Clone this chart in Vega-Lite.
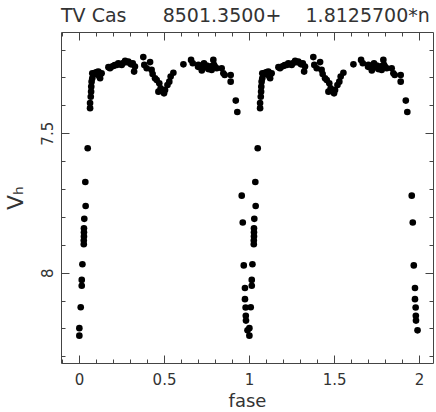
{
  "$schema": "https://vega.github.io/schema/vega-lite/v6.json",
  "width": 372,
  "height": 331,
  "autosize": {"type": "none"},
  "padding": {"left": 61, "top": 32, "right": 3, "bottom": 49},
  "background": "white",
  "config": {
    "view": {"stroke": null},
    "font": "DejaVu Sans",
    "axis": {
      "grid": false,
      "domainColor": "#444",
      "domainWidth": 1,
      "tickColor": "#444",
      "tickWidth": 1,
      "labelFont": "DejaVu Sans",
      "labelFontSize": 15,
      "labelColor": "#333",
      "titleFont": "DejaVu Sans",
      "titleFontWeight": "normal",
      "titleColor": "#333",
      "labelOverlap": false,
      "labelFlush": false
    }
  },
  "title": {
    "text": "TV Cas\u00a0\u00a0\u00a0\u00a0\u00a0\u00a08501.3500+\u00a0\u00a0\u00a0\u00a01.8125700*n",
    "anchor": "start",
    "font": "DejaVu Sans",
    "fontSize": 19,
    "fontWeight": "normal",
    "color": "#333",
    "baseline": "alphabetic",
    "offset": -9,
    "frame": "group"
  },
  "data": {
    "values": [
      {"fase": 0.002, "v": 8.199}, {"fase": 0.002, "v": 8.226}, {"fase": 0.010, "v": 8.124}, {"fase": 0.016, "v": 8.026},
      {"fase": 0.016, "v": 8.047}, {"fase": 0.020, "v": 7.970}, {"fase": 0.028, "v": 7.898}, {"fase": 0.028, "v": 7.885},
      {"fase": 0.029, "v": 7.870}, {"fase": 0.029, "v": 7.855}, {"fase": 0.029, "v": 7.841}, {"fase": 0.031, "v": 7.807},
      {"fase": 0.037, "v": 7.675}, {"fase": 0.039, "v": 7.761}, {"fase": 0.051, "v": 7.554}, {"fase": 0.065, "v": 7.392},
      {"fase": 0.065, "v": 7.410}, {"fase": 0.069, "v": 7.369}, {"fase": 0.071, "v": 7.351}, {"fase": 0.072, "v": 7.333},
      {"fase": 0.074, "v": 7.315}, {"fase": 0.078, "v": 7.303}, {"fase": 0.078, "v": 7.285}, {"fase": 0.085, "v": 7.290},
      {"fase": 0.094, "v": 7.283}, {"fase": 0.105, "v": 7.281}, {"fase": 0.114, "v": 7.279}, {"fase": 0.118, "v": 7.295},
      {"fase": 0.124, "v": 7.291}, {"fase": 0.124, "v": 7.303}, {"fase": 0.133, "v": 7.285}, {"fase": 0.173, "v": 7.263},
      {"fase": 0.182, "v": 7.267}, {"fase": 0.190, "v": 7.262}, {"fase": 0.202, "v": 7.259}, {"fase": 0.210, "v": 7.256},
      {"fase": 0.222, "v": 7.255}, {"fase": 0.231, "v": 7.249}, {"fase": 0.240, "v": 7.252}, {"fase": 0.251, "v": 7.255},
      {"fase": 0.260, "v": 7.248}, {"fase": 0.271, "v": 7.240}, {"fase": 0.280, "v": 7.245}, {"fase": 0.290, "v": 7.243},
      {"fase": 0.300, "v": 7.249}, {"fase": 0.306, "v": 7.253}, {"fase": 0.316, "v": 7.249}, {"fase": 0.324, "v": 7.279},
      {"fase": 0.329, "v": 7.261}, {"fase": 0.378, "v": 7.227}, {"fase": 0.384, "v": 7.255}, {"fase": 0.398, "v": 7.267},
      {"fase": 0.418, "v": 7.245}, {"fase": 0.427, "v": 7.273}, {"fase": 0.433, "v": 7.288}, {"fase": 0.447, "v": 7.303},
      {"fase": 0.457, "v": 7.309}, {"fase": 0.467, "v": 7.351}, {"fase": 0.472, "v": 7.321}, {"fase": 0.480, "v": 7.339},
      {"fase": 0.500, "v": 7.357}, {"fase": 0.506, "v": 7.345}, {"fase": 0.520, "v": 7.327}, {"fase": 0.531, "v": 7.315},
      {"fase": 0.539, "v": 7.297}, {"fase": 0.555, "v": 7.283}, {"fase": 0.614, "v": 7.253}, {"fase": 0.659, "v": 7.237},
      {"fase": 0.669, "v": 7.249}, {"fase": 0.700, "v": 7.262}, {"fase": 0.702, "v": 7.255}, {"fase": 0.722, "v": 7.263},
      {"fase": 0.722, "v": 7.275}, {"fase": 0.735, "v": 7.249}, {"fase": 0.740, "v": 7.262}, {"fase": 0.751, "v": 7.257},
      {"fase": 0.760, "v": 7.270}, {"fase": 0.767, "v": 7.267}, {"fase": 0.775, "v": 7.260}, {"fase": 0.780, "v": 7.273},
      {"fase": 0.790, "v": 7.237}, {"fase": 0.794, "v": 7.255}, {"fase": 0.800, "v": 7.262}, {"fase": 0.810, "v": 7.267},
      {"fase": 0.839, "v": 7.267}, {"fase": 0.849, "v": 7.285}, {"fase": 0.857, "v": 7.291}, {"fase": 0.892, "v": 7.291},
      {"fase": 0.892, "v": 7.315}, {"fase": 0.922, "v": 7.383}, {"fase": 0.931, "v": 7.424}, {"fase": 0.957, "v": 7.724},
      {"fase": 0.963, "v": 7.820}, {"fase": 0.969, "v": 7.974}, {"fase": 0.976, "v": 8.055}, {"fase": 0.976, "v": 8.095},
      {"fase": 0.980, "v": 8.125}, {"fase": 0.981, "v": 8.155}, {"fase": 0.982, "v": 8.172}, {"fase": 0.991, "v": 8.207},
      {"fase": 1.002, "v": 8.199}, {"fase": 1.002, "v": 8.226}, {"fase": 1.010, "v": 8.124}, {"fase": 1.016, "v": 8.026},
      {"fase": 1.016, "v": 8.047}, {"fase": 1.020, "v": 7.970}, {"fase": 1.028, "v": 7.898}, {"fase": 1.028, "v": 7.885},
      {"fase": 1.029, "v": 7.870}, {"fase": 1.029, "v": 7.855}, {"fase": 1.029, "v": 7.841}, {"fase": 1.031, "v": 7.807},
      {"fase": 1.037, "v": 7.675}, {"fase": 1.039, "v": 7.761}, {"fase": 1.051, "v": 7.554}, {"fase": 1.065, "v": 7.392},
      {"fase": 1.065, "v": 7.410}, {"fase": 1.069, "v": 7.369}, {"fase": 1.071, "v": 7.351}, {"fase": 1.072, "v": 7.333},
      {"fase": 1.074, "v": 7.315}, {"fase": 1.078, "v": 7.303}, {"fase": 1.078, "v": 7.285}, {"fase": 1.085, "v": 7.290},
      {"fase": 1.094, "v": 7.283}, {"fase": 1.105, "v": 7.281}, {"fase": 1.114, "v": 7.279}, {"fase": 1.118, "v": 7.295},
      {"fase": 1.124, "v": 7.291}, {"fase": 1.124, "v": 7.303}, {"fase": 1.133, "v": 7.285}, {"fase": 1.173, "v": 7.263},
      {"fase": 1.182, "v": 7.267}, {"fase": 1.190, "v": 7.262}, {"fase": 1.202, "v": 7.259}, {"fase": 1.210, "v": 7.256},
      {"fase": 1.222, "v": 7.255}, {"fase": 1.231, "v": 7.249}, {"fase": 1.240, "v": 7.252}, {"fase": 1.251, "v": 7.255},
      {"fase": 1.260, "v": 7.248}, {"fase": 1.271, "v": 7.240}, {"fase": 1.280, "v": 7.245}, {"fase": 1.290, "v": 7.243},
      {"fase": 1.300, "v": 7.249}, {"fase": 1.306, "v": 7.253}, {"fase": 1.316, "v": 7.249}, {"fase": 1.324, "v": 7.279},
      {"fase": 1.329, "v": 7.261}, {"fase": 1.378, "v": 7.227}, {"fase": 1.384, "v": 7.255}, {"fase": 1.398, "v": 7.267},
      {"fase": 1.418, "v": 7.245}, {"fase": 1.427, "v": 7.273}, {"fase": 1.433, "v": 7.288}, {"fase": 1.447, "v": 7.303},
      {"fase": 1.457, "v": 7.309}, {"fase": 1.467, "v": 7.351}, {"fase": 1.472, "v": 7.321}, {"fase": 1.480, "v": 7.339},
      {"fase": 1.500, "v": 7.357}, {"fase": 1.506, "v": 7.345}, {"fase": 1.520, "v": 7.327}, {"fase": 1.531, "v": 7.315},
      {"fase": 1.539, "v": 7.297}, {"fase": 1.555, "v": 7.283}, {"fase": 1.614, "v": 7.253}, {"fase": 1.659, "v": 7.237},
      {"fase": 1.669, "v": 7.249}, {"fase": 1.700, "v": 7.262}, {"fase": 1.702, "v": 7.255}, {"fase": 1.722, "v": 7.263},
      {"fase": 1.722, "v": 7.275}, {"fase": 1.735, "v": 7.249}, {"fase": 1.740, "v": 7.262}, {"fase": 1.751, "v": 7.257},
      {"fase": 1.760, "v": 7.270}, {"fase": 1.767, "v": 7.267}, {"fase": 1.775, "v": 7.260}, {"fase": 1.780, "v": 7.273},
      {"fase": 1.790, "v": 7.237}, {"fase": 1.794, "v": 7.255}, {"fase": 1.800, "v": 7.262}, {"fase": 1.810, "v": 7.267},
      {"fase": 1.839, "v": 7.267}, {"fase": 1.849, "v": 7.285}, {"fase": 1.857, "v": 7.291}, {"fase": 1.892, "v": 7.291},
      {"fase": 1.892, "v": 7.315}, {"fase": 1.922, "v": 7.383}, {"fase": 1.931, "v": 7.424}, {"fase": 1.957, "v": 7.724},
      {"fase": 1.963, "v": 7.820}, {"fase": 1.969, "v": 7.974}, {"fase": 1.976, "v": 8.055}, {"fase": 1.976, "v": 8.095},
      {"fase": 1.980, "v": 8.125}, {"fase": 1.981, "v": 8.155}, {"fase": 1.982, "v": 8.172}, {"fase": 1.991, "v": 8.207}
    ]
  },
  "layer": [
    {
      "mark": {"type": "circle", "size": 44, "color": "black", "opacity": 1},
      "encoding": {
        "x": {
          "field": "fase", "type": "quantitative",
          "scale": {"domain": [-0.106, 2.082], "nice": false, "zero": false},
          "axis": {
            "orient": "bottom",
            "values": [-0.1, 0, 0.1, 0.2, 0.3, 0.4, 0.5, 0.6, 0.7, 0.8, 0.9, 1, 1.1, 1.2, 1.3, 1.4, 1.5, 1.6, 1.7, 1.8, 1.9, 2],
            "tickSize": {"condition": {"test": "abs(datum.value*2 - round(datum.value*2)) < 0.001", "value": -8}, "value": -4},
            "labelExpr": "abs(datum.value*2 - round(datum.value*2)) < 0.001 ? format(datum.value, '~g') : ''",
            "labelBaseline": "alphabetic",
            "labelPadding": 29,
            "title": "fase",
            "titleFontSize": 18,
            "titlePadding": 1
          }
        },
        "y": {
          "field": "v", "type": "quantitative",
          "scale": {"domain": [7.137, 8.324], "reverse": true, "nice": false, "zero": false},
          "axis": {
            "orient": "left",
            "values": [7.2, 7.3, 7.4, 7.5, 7.6, 7.7, 7.8, 7.9, 8, 8.1, 8.2, 8.3],
            "tickSize": {"condition": {"test": "abs(datum.value*2 - round(datum.value*2)) < 0.001", "value": -8}, "value": -4},
            "labelExpr": "abs(datum.value*2 - round(datum.value*2)) < 0.001 ? format(datum.value, '~g') : ''",
            "labelAngle": -90,
            "labelAlign": "center",
            "labelBaseline": "alphabetic",
            "labelPadding": 17,
            "title": "V\u2095",
            "titleFontSize": 22,
            "titlePadding": 9
          }
        }
      }
    },
    {
      "mark": {"type": "circle", "size": 44, "color": "black", "opacity": 0},
      "encoding": {
        "x": {
          "field": "fase", "type": "quantitative",
          "axis": {
            "orient": "top",
            "values": [-0.1, 0, 0.1, 0.2, 0.3, 0.4, 0.5, 0.6, 0.7, 0.8, 0.9, 1, 1.1, 1.2, 1.3, 1.4, 1.5, 1.6, 1.7, 1.8, 1.9, 2],
            "tickSize": {"condition": {"test": "abs(datum.value*2 - round(datum.value*2)) < 0.001", "value": -8}, "value": -4},
            "labels": false,
            "title": null
          }
        },
        "y": {
          "field": "v", "type": "quantitative",
          "axis": {
            "orient": "right",
            "values": [7.2, 7.3, 7.4, 7.5, 7.6, 7.7, 7.8, 7.9, 8, 8.1, 8.2, 8.3],
            "tickSize": {"condition": {"test": "abs(datum.value*2 - round(datum.value*2)) < 0.001", "value": -8}, "value": -4},
            "labels": false,
            "title": null
          }
        }
      }
    }
  ],
  "resolve": {"axis": {"x": "independent", "y": "independent"}}
}
